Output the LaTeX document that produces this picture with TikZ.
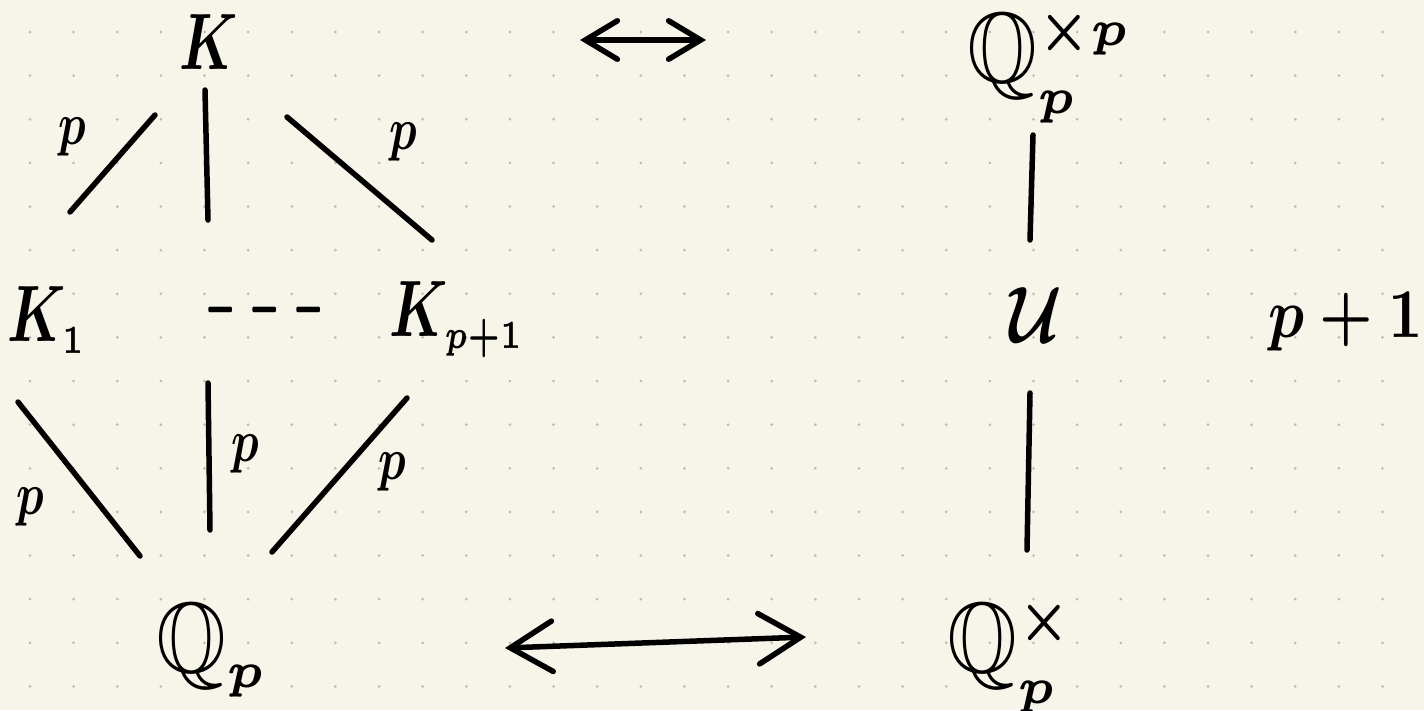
\documentclass[tikz,border=0pt]{standalone}
\usepackage{amssymb}
\usetikzlibrary{arrows.meta}
\definecolor{paper}{HTML}{F7F5EA}
\definecolor{dotc}{HTML}{BDBBB3}
\begin{document}
\begin{tikzpicture}[x=1pt,y=-1pt,
  big/.style={inner sep=0pt, font=\boldmath, xscale=5.6, yscale=8},
  qq/.style={inner sep=0pt, font=\boldmath, xscale=9, yscale=10},
  lab/.style={inner sep=0pt, font=\boldmath, xscale=4.6, yscale=6},
  stroke/.style={line width=5.5pt, line cap=round, line join=round, black},
  dbl/.style={stroke, {Straight Barb[length=#1,width=1.2*#1,line cap=round]}-{Straight Barb[length=#1,width=1.2*#1,line cap=round]}}]
\fill[paper] (0,0) rectangle (1424,710);
\useasboundingbox (0,0) rectangle (1424,710);
\foreach \i in {0,...,31}
  \foreach \j in {0,...,15}
    \fill[dotc] (30+43.63*\i, 32+43.63*\j) circle (1.5);

% nodes
\node[big] (K)   at (209,42)  {$K$};
\node[big] (K1)  at (47,320)  {$K_{\scriptscriptstyle 1}$};
\node[inner sep=0pt, font=\boldmath, xscale=3.4, yscale=9] (dots) at (265,310)
  {$\mathord{-}\hspace{4pt}\mathord{-}\hspace{4pt}\mathord{-}$};
\node[big] (Kp1) at (457,320) {$K_{\scriptscriptstyle p+1}$};
\node[qq] (Qp)  at (212,650) {$\mathbb{Q}_{\scriptscriptstyle p}$};
\node[qq] (Qxp) at (1050,66) {$\mathbb{Q}_{\scriptscriptstyle p}^{\scriptscriptstyle\times p}$};
\node[big, xscale=1.15] (U)   at (1036,315) {$\mathcal{U}$};
\node[qq] (Qx)  at (1012,656) {$\mathbb{Q}_{\scriptscriptstyle p}^{\scriptscriptstyle\times}$};
\node[inner sep=0pt, font=\boldmath, xscale=6, yscale=7] (idx) at (1346,322) {$p+1$};

% edge labels
\node[lab] (l1) at (72,137)  {$p$};
\node[lab] (l2) at (403,142) {$p$};
\node[lab] (l3) at (30,507)  {$p$};
\node[lab] (l4) at (245,454) {$p$};
\node[lab] (l5) at (392,472) {$p$};

% connectors
\draw[stroke] ([shift={(-54,73)}]K.center) -- ([shift={(23,-108)}]K1.center);
\draw[stroke] ([shift={(-4,48)}]K.center) -- ([shift={(-57,-90)}]dots.center);
\draw[stroke] ([shift={(78,75)}]K.center) -- ([shift={(-25,-80)}]Kp1.center);
\draw[stroke] ([shift={(-29,82)}]K1.center) -- ([shift={(-72,-94)}]Qp.center);
\draw[stroke] ([shift={(-57,73)}]dots.center) -- ([shift={(-2,-120)}]Qp.center);
\draw[stroke] ([shift={(-50,78)}]Kp1.center) -- ([shift={(60,-98)}]Qp.center);
\draw[stroke] ([shift={(-17,69)}]Qxp.center) -- ([shift={(-6,-75)}]U.center);
\draw[stroke] ([shift={(-6,78)}]U.center) -- ([shift={(15,-106)}]Qx.center);

% equivalence arrows
\coordinate (ta) at (580,40);
\coordinate (tb) at (706,40);
\draw[dbl=32pt] (ta) -- (tb);
\coordinate (ba) at (505,648);
\coordinate (bb) at (806,637);
\draw[dbl=42pt] (ba) -- (bb);
\end{tikzpicture}
\end{document}
